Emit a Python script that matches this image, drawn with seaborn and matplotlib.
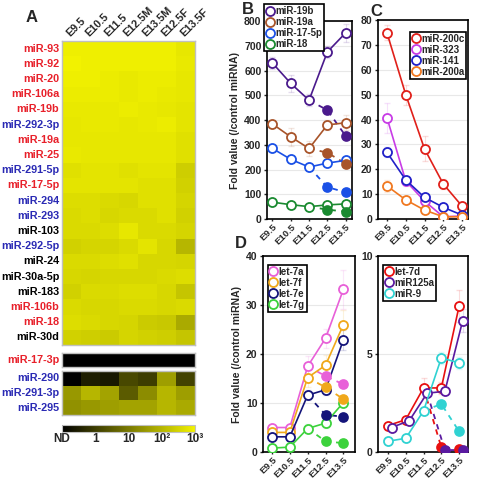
import numpy as np
import pandas as pd
import seaborn as sns
import matplotlib.pyplot as plt
from matplotlib.colors import LinearSegmentedColormap, Normalize
from matplotlib.cm import ScalarMappable
from matplotlib.lines import Line2D

sns.set_style('white')
plt.rcParams['font.family'] = ['Liberation Sans', 'DejaVu Sans']
plt.rcParams['font.weight'] = 'bold'

# ---- Panel A data: log10 fold value, ND = -1 ----
stages_a = ['E9.5', 'E10.5', 'E11.5', 'E12.5M', 'E13.5M', 'E12.5F', 'E13.5F']

mirs_main = ['miR-93', 'miR-92', 'miR-20', 'miR-106a', 'miR-19b', 'miR-292-3p',
             'miR-19a', 'miR-25', 'miR-291-5p', 'miR-17-5p', 'miR-294', 'miR-293',
             'miR-103', 'miR-292-5p', 'miR-24', 'miR-30a-5p', 'miR-183', 'miR-106b',
             'miR-18', 'miR-30d']
colors_main = ['r', 'r', 'r', 'r', 'r', 'b', 'r', 'r', 'b', 'r', 'b', 'b',
               'k', 'b', 'k', 'k', 'k', 'r', 'r', 'k']
vals_main = [
    [2.95, 2.95, 2.95, 2.95, 2.95, 2.95, 2.8],
    [3.0, 2.95, 2.95, 2.95, 2.95, 2.95, 2.85],
    [2.95, 2.95, 2.9, 2.85, 2.9, 2.9, 2.8],
    [2.9, 2.9, 2.9, 2.85, 2.9, 2.85, 2.8],
    [2.85, 2.85, 2.85, 2.9, 2.85, 2.8, 2.75],
    [2.8, 2.85, 2.85, 2.8, 2.85, 2.9, 2.75],
    [2.8, 2.8, 2.8, 2.8, 2.8, 2.8, 2.7],
    [2.85, 2.8, 2.8, 2.8, 2.8, 2.8, 2.7],
    [2.7, 2.75, 2.75, 2.7, 2.75, 2.75, 2.4],
    [2.75, 2.75, 2.75, 2.75, 2.7, 2.7, 2.45],
    [2.65, 2.65, 2.6, 2.55, 2.7, 2.7, 2.5],
    [2.6, 2.65, 2.55, 2.6, 2.6, 2.7, 2.45],
    [2.6, 2.6, 2.65, 2.8, 2.6, 2.6, 2.5],
    [2.45, 2.5, 2.5, 2.6, 2.75, 2.55, 2.0],
    [2.6, 2.6, 2.65, 2.7, 2.55, 2.55, 2.5],
    [2.55, 2.5, 2.55, 2.55, 2.55, 2.6, 2.65],
    [2.45, 2.6, 2.6, 2.65, 2.65, 2.55, 2.25],
    [2.6, 2.55, 2.55, 2.6, 2.6, 2.55, 2.6],
    [2.65, 2.6, 2.55, 2.5, 2.35, 2.3, 1.8],
    [2.45, 2.4, 2.35, 2.5, 2.45, 2.4, 2.25],
]

mirs_mid = ['miR-17-3p']
colors_mid = ['r']
vals_mid = [[-1, -1, -1, -1, -1, -1, -1]]

mirs_low = ['miR-290', 'miR-291-3p', 'miR-295']
colors_low = ['b', 'b', 'b']
vals_low = [
    [-1.0, -0.5, -0.6, 0.2, 0.0, 1.6, 0.1],
    [1.5, 2.0, 1.7, 0.5, 1.3, 2.0, 1.6],
    [1.4, 1.5, 1.6, 1.7, 1.7, 2.0, 1.8],
]

cbar_ticks = [-1, 0, 1, 2, 3]
cbar_labels = ['ND', '1', '10', '10²', '10³']

# ---- Panels B-D data ----
stages = ['E9.5', 'E10.5', 'E11.5', 'E12.5', 'E13.5']

# B
b_names = ['miR-19b', 'miR-19a', 'miR-17-5p', 'miR-18']
b_colors = ['#4a1a8c', '#a8542a', '#1a50e6', '#1a8a30']
b_open = [[630, 548, 480, 675, 752],
          [384, 332, 285, 380, 389],
          [285, 241, 210, 226, 237],
          [68, 58, 50, 57, 61]]
b_filled = [[440, 336], [268, 224], [129, 108], [38, 30]]
b_err = [[25, 35, 25, 25, 35], [15, 35, 30, 20, 30], [10, 10, 15, 10, 10], [5, 5, 5, 5, 5]]

# C
c_names = ['miR-200c', 'miR-323', 'miR-141', 'miR-200a']
c_colors = ['#e0201a', '#c83ce6', '#2020c8', '#f07820']
c_open = [[74.8, 50.0, 28.2, 14.1, 5.2],
          [40.7, 15.3, 7.2, 0.9, 1.2],
          [26.8, 15.7, 8.7, 4.7, 1.6],
          [13.3, 7.7, 3.6, 0.9, 0.9]]
c_err = [[3, 4, 5, 2, 1], [6, 2, 1.5, 0.5, 0.5], [2, 1, 1, 0.5, 0.3], [2.5, 1, 1, 0.3, 0.3]]

# D left
d_names = ['let-7a', 'let-7f', 'let-7e', 'let-7g']
d_colors = ['#e860d8', '#f0a81a', '#14147a', '#3cd23c']
d_open = [[5.0, 5.0, 17.5, 23.2, 33.2],
          [4.0, 4.0, 15.2, 17.7, 26.0],
          [3.1, 3.1, 11.6, 12.7, 22.9],
          [0.8, 1.0, 4.8, 5.9, 10.1]]
d_filled = [[15.5, 13.8], [13.2, 10.8], [7.6, 7.2], [2.2, 1.8]]
d_err = [[0.5, 0.5, 2, 2, 4], [0.5, 0.5, 2, 2, 3], [0.5, 0.5, 1, 1, 2], [0.3, 0.3, 1, 1, 1]]

# D right
e_names = ['let-7d', 'miR125a', 'miR-9']
e_colors = ['#e81010', '#5a1aa0', '#30d2d2']
e_open = [[1.35, 1.65, 3.27, 3.27, 7.45],
          [1.25, 1.6, 3.0, 3.1, 6.7],
          [0.55, 0.7, 2.1, 4.8, 4.55]]
e_filled = [[0.24, 0.17], [0.1, 0.1], [2.45, 1.05]]
e_err = [[0.1, 0.1, 0.5, 0.3, 0.8], [0.1, 0.1, 0.2, 0.2, 0.6], [0.05, 0.1, 0.2, 0.3, 0.3]]
e_shift = [0.0, 0.2, 0.0]

label_colors = {'r': '#e8202a', 'b': '#2a2ab4', 'k': 'black'}
cmap = LinearSegmentedColormap.from_list('ky', ['#000000', '#f2f200'])

fig = plt.figure(figsize=(4.78, 4.82), dpi=100)


def heat_block(rect, names, cols, vals, top_labels=False):
    ax = fig.add_axes(rect)
    df = pd.DataFrame(vals, index=names, columns=stages_a)
    sns.heatmap(df, ax=ax, cmap=cmap, vmin=-1, vmax=3, cbar=False,
                xticklabels=top_labels, yticklabels=True)
    ax.tick_params(length=0, pad=2)
    for lbl, c in zip(ax.get_yticklabels(), cols):
        lbl.set_color(label_colors[c])
        lbl.set_fontsize(7.8)
        lbl.set_fontweight('bold')
        lbl.set_rotation(0)
    if top_labels:
        ax.xaxis.tick_top()
        ax.set_xticklabels(stages_a, rotation=45, ha='left', va='bottom',
                           rotation_mode='anchor', fontsize=7.8, fontweight='bold')
    for s in ax.spines.values():
        s.set_visible(True)
        s.set_color('#c0c0c0')
        s.set_linewidth(1.0)
    ax.set_xlabel('')
    ax.set_ylabel('')
    return ax


heat_block([0.1297, 0.2842, 0.2782, 0.6307], mirs_main, colors_main, vals_main, top_labels=True)
heat_block([0.1297, 0.2386, 0.2782, 0.0290], mirs_mid, colors_mid, vals_mid)
heat_block([0.1297, 0.1390, 0.2782, 0.0913], mirs_low, colors_low, vals_low)

cax = fig.add_axes([0.1297, 0.1037, 0.2782, 0.0145])
cb = fig.colorbar(ScalarMappable(norm=Normalize(-1, 3), cmap=cmap), cax=cax,
                  orientation='horizontal', ticks=cbar_ticks)
cb.set_ticklabels(cbar_labels)
cax.tick_params(length=0, labelsize=8.5, pad=1)
cb.outline.set_edgecolor('#c0c0c0')


def draw_series(ax, y_open, color, y_filled=None, dx=0.0, err=None):
    x = np.arange(5) + dx
    if err is not None:
        ax.errorbar(x, y_open, yerr=err, fmt='none', ecolor=color, alpha=0.15,
                    elinewidth=0.8, capsize=2, zorder=1)
    if y_filled is not None:
        xd = x[2:]
        yd = [y_open[2]] + list(y_filled)
        sns.lineplot(x=xd, y=yd, ax=ax, color=color, linewidth=1.3,
                     linestyle=(0, (3, 3)), zorder=2)
        sns.lineplot(x=x[3:], y=y_filled, ax=ax, color=color, linestyle='none',
                     marker='o', markersize=6.5, markerfacecolor=color,
                     markeredgecolor=color, markeredgewidth=1.2, zorder=4)
    sns.lineplot(x=x, y=y_open, ax=ax, color=color, linewidth=1.2, marker='o',
                 markersize=6.5, markerfacecolor='white', markeredgecolor=color,
                 markeredgewidth=1.3, zorder=3)


def style_axes(ax, xlim, ylim, yticks):
    ax.set_xlim(*xlim)
    ax.set_ylim(*ylim)
    ax.set_yticks(yticks)
    ax.set_yticklabels([str(t) for t in yticks], fontsize=7.5, fontweight='bold')
    ax.set_xticks(range(5))
    ax.set_xticklabels(stages, rotation=45, ha='right', va='top',
                       rotation_mode='anchor', fontsize=6.8, fontweight='bold')
    ax.tick_params(axis='y', left=True, length=2, width=1, pad=2)
    ax.tick_params(axis='x', bottom=True, length=1.5, width=1, pad=1)
    ax.yaxis.grid(True, color='#e8e8e8', linewidth=0.8)
    ax.xaxis.grid(False)
    ax.set_axisbelow(True)
    for s in ax.spines.values():
        s.set_visible(True)
        s.set_color('black')
        s.set_linewidth(1.2)
    ax.set_xlabel('')
    ax.set_ylabel('')


def add_legend(ax, names, colors, loc, anchor):
    handles = [Line2D([], [], linestyle='none', marker='o', markersize=6.5,
                      markerfacecolor='white', markeredgecolor=c, markeredgewidth=1.3)
               for c in colors]
    leg = ax.legend(handles, names, loc=loc, bbox_to_anchor=anchor, frameon=True,
                    fancybox=False, edgecolor='black', framealpha=1,
                    prop={'size': 7.0, 'weight': 'bold'}, handlelength=0.8,
                    handletextpad=0.15, borderpad=0.2, labelspacing=0.1,
                    borderaxespad=0)
    leg.get_frame().set_linewidth(1.2)
    leg.set_zorder(10)


# Panel B
axB = fig.add_axes([0.5586, 0.5456, 0.1778, 0.4108])
for yo, yf, c, e in zip(b_open, b_filled, b_colors, b_err):
    draw_series(axB, yo, c, yf, err=e)
style_axes(axB, (-0.3, 4.35), (0, 800), [0, 100, 200, 300, 400, 500, 600, 700, 800])
axB.set_ylabel('Fold value (/control miRNA)', fontsize=7.5, fontweight='bold', labelpad=3)
add_legend(axB, b_names, b_colors, 'upper left', (-0.03, 1.085))

# Panel C
axC = fig.add_axes([0.7908, 0.5456, 0.1883, 0.4129])
for yo, c, e in zip(c_open, c_colors, c_err):
    draw_series(axC, yo, c, err=e)
style_axes(axC, (-0.48, 4.32), (0, 80), [0, 10, 20, 30, 40, 50, 60, 70, 80])
add_legend(axC, c_names, c_colors, 'upper right', (0.98, 0.94))

# Panel D left
axD = fig.add_axes([0.5502, 0.0622, 0.1925, 0.4066])
for yo, yf, c, e in zip(d_open, d_filled, d_colors, d_err):
    draw_series(axD, yo, c, yf, err=e)
style_axes(axD, (-0.5, 4.65), (0, 40), [0, 10, 20, 30, 40])
axD.set_ylabel('Fold value (/control miRNA)', fontsize=7.5, fontweight='bold', labelpad=3)
add_legend(axD, d_names, d_colors, 'upper left', (0.05, 0.955))

# Panel D right
axE = fig.add_axes([0.7908, 0.0622, 0.1883, 0.4066])
for yo, yf, c, e, dx in zip(e_open, e_filled, e_colors, e_err, e_shift):
    draw_series(axE, yo, c, yf, dx=dx, err=e)
style_axes(axE, (-0.56, 4.5), (0, 10), [0, 5, 10])
add_legend(axE, e_names, e_colors, 'upper left', (0.055, 0.955))

# panel letters
fig.text(32 / 478, 1 - 18 / 482, 'A', fontsize=12, fontweight='bold', ha='center', va='center')
fig.text(248 / 478, 1 - 9 / 482, 'B', fontsize=12, fontweight='bold', ha='center', va='center')
fig.text(376 / 478, 1 - 11 / 482, 'C', fontsize=12, fontweight='bold', ha='center', va='center')
fig.text(241 / 478, 1 - 243 / 482, 'D', fontsize=12, fontweight='bold', ha='center', va='center')

fig.savefig('out.png', dpi=100)
